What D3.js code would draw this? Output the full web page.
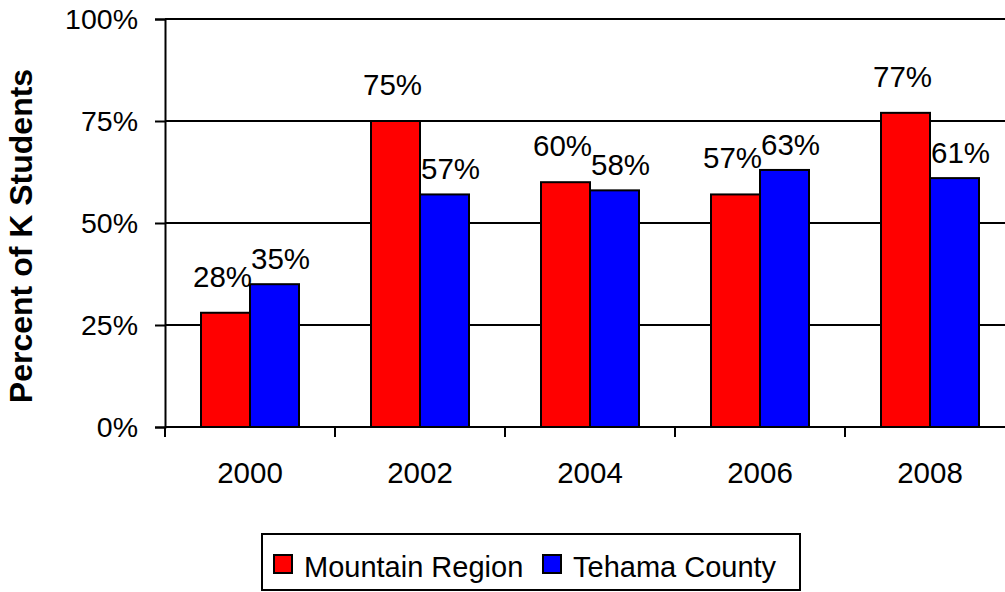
<!DOCTYPE html>
<html>
<head>
    <title>Percent of K Students</title>
    <script src="https://d3js.org/d3.v7.min.js"></script>
    <style>
        body { margin: 0; background: #fff; }
        svg { display: block; font-family: Arial, "Liberation Sans", sans-serif; }
    </style>
</head>
<body>
<svg id="myChart" width="1005" height="592"></svg>

<script>
    // datos del grafico
    const years = ["2000", "2002", "2004", "2006", "2008"];
    const seriesNames = ["Mountain Region", "Tehama County"];
    const mountainRegion = [0.28, 0.75, 0.60, 0.57, 0.77];
    const tehamaCounty = [0.35, 0.57, 0.58, 0.63, 0.61];
    const yTicks = [0, 0.25, 0.5, 0.75, 1];
    const colors = ["#ff0000", "#0000ff"];

    const series = [mountainRegion, tehamaCounty];

    const svg = d3.select("#myChart");
    const plot = { left: 165, right: 1015, top: 19, bottom: 427 };
    const pad = 72 / 170;

    const x0 = d3.scaleBand()
        .domain(years)
        .range([plot.left, plot.right])
        .paddingInner(pad)
        .paddingOuter(pad / 2);

    const x1 = d3.scaleBand()
        .domain(seriesNames)
        .range([0, x0.bandwidth()]);

    const y = d3.scaleLinear()
        .domain([0, 1])
        .range([plot.bottom, plot.top]);

    // lineas horizontales
    svg.append("g")
        .selectAll("line")
        .data(yTicks.filter(d => d > 0))
        .join("line")
        .attr("x1", plot.left)
        .attr("x2", plot.right)
        .attr("y1", d => y(d))
        .attr("y2", d => y(d))
        .attr("stroke", "#000")
        .attr("stroke-width", 2);

    // eje y
    const yAxis = svg.append("g")
        .attr("transform", `translate(${plot.left},0)`)
        .call(d3.axisLeft(y).tickValues(yTicks).tickFormat(d3.format(".0%")).tickSize(10).tickPadding(17));
    yAxis.select(".domain").attr("stroke-width", 2);
    yAxis.selectAll(".tick line").attr("stroke-width", 2);
    yAxis.selectAll(".tick text").attr("font-size", 28.5).attr("fill", "#000")
        .attr("font-family", "Arial, 'Liberation Sans', sans-serif");

    // barras
    const groups = svg.append("g")
        .selectAll("g")
        .data(years)
        .join("g")
        .attr("transform", d => `translate(${x0(d)},0)`);

    seriesNames.forEach((name, s) => {
        groups.append("rect")
            .attr("x", x1(name))
            .attr("y", (d, i) => y(series[s][i]))
            .attr("width", x1.bandwidth())
            .attr("height", (d, i) => y(0) - y(series[s][i]))
            .attr("fill", colors[s])
            .attr("stroke", "#000")
            .attr("stroke-width", 2);
    });

    // etiquetas de valores
    const labelDx = [-3, 6];
    const labelDy = [26, 15];
    seriesNames.forEach((name, s) => {
        groups.append("text")
            .attr("x", x1(name) + x1.bandwidth() / 2 + labelDx[s])
            .attr("y", (d, i) => y(series[s][i]) - labelDy[s])
            .attr("text-anchor", "middle")
            .attr("font-size", 29.5)
            .text((d, i) => d3.format(".0%")(series[s][i]));
    });

    // eje x
    const step = x0.step();
    const xEdges = years.map(d => x0(d) - step * pad / 2).concat([plot.right]);
    svg.append("line")
        .attr("x1", plot.left)
        .attr("x2", plot.right)
        .attr("y1", plot.bottom)
        .attr("y2", plot.bottom)
        .attr("stroke", "#000")
        .attr("stroke-width", 2);
    svg.append("g")
        .selectAll("line")
        .data(xEdges)
        .join("line")
        .attr("x1", d => d)
        .attr("x2", d => d)
        .attr("y1", plot.bottom)
        .attr("y2", plot.bottom + 10)
        .attr("stroke", "#000")
        .attr("stroke-width", 2);
    svg.append("g")
        .selectAll("text")
        .data(years)
        .join("text")
        .attr("x", d => x0(d) + x0.bandwidth() / 2)
        .attr("y", 483)
        .attr("text-anchor", "middle")
        .attr("font-size", 29.5)
        .text(d => d);

    // titulo eje y
    svg.append("text")
        .attr("transform", "translate(32,236) rotate(-90)")
        .attr("text-anchor", "middle")
        .attr("font-size", 32)
        .attr("font-weight", "bold")
        .text("Percent of K Students");

    // leyenda
    const legend = svg.append("g");
    legend.append("rect")
        .attr("x", 262).attr("y", 534)
        .attr("width", 538).attr("height", 56)
        .attr("fill", "#fff").attr("stroke", "#000").attr("stroke-width", 2);
    const legendX = [274, 543];
    seriesNames.forEach((name, s) => {
        legend.append("rect")
            .attr("x", legendX[s]).attr("y", 555)
            .attr("width", 18).attr("height", 18)
            .attr("fill", colors[s]).attr("stroke", "#000").attr("stroke-width", 2);
        legend.append("text")
            .attr("x", legendX[s] + 30).attr("y", 577)
            .attr("font-size", 29)
            .text(name);
    });
</script>
</body>
</html>
